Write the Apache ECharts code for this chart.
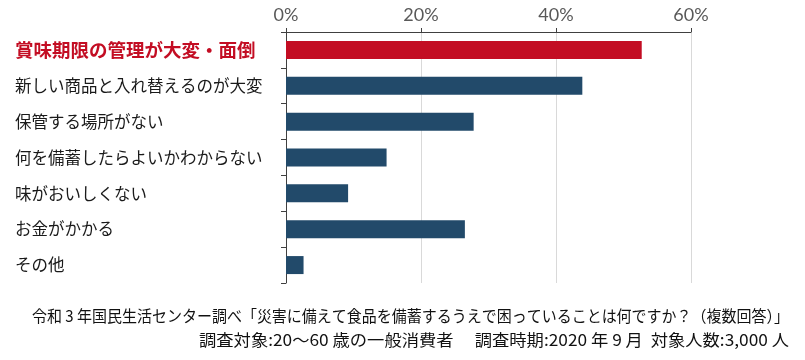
<!DOCTYPE html>
<html><head><meta charset="utf-8">
<script src="https://cdn.jsdelivr.net/npm/echarts@6/dist/echarts.min.js"></script>
<style>html,body{margin:0;padding:0;background:#fff}#c{width:805px;height:360px}</style>
</head><body><div id="c"></div>
<script>
const categories = ["賞味期限の管理が大変・面倒","新しい商品と入れ替えるのが大変","保管する場所がない","何を備蓄したらよいかわからない","味がおいしくない","お金がかかる","その他"];
const values = [52.7, 43.9, 27.8, 14.9, 9.2, 26.5, 2.6];
const highlightIndex = 0;
const xTicks = [0, 20, 40, 60];
const sourceLine1 = "令和 3 年国民生活センター調べ「災害に備えて食品を備蓄するうえで困っていることは何ですか？（複数回答）」";
const sourceLine2 = "調査対象:20～60 歳の一般消費者　 調査時期:2020 年 9 月  対象人数:3,000 人";

const RED = "#c30d23", BLUE = "#224a6a";
const FOOT_FONT = '16px "Noto Sans CJK JP"';
function measure(t) {
  const ctx = document.createElement('canvas').getContext('2d');
  ctx.font = FOOT_FONT;
  return ctx.measureText(t).width;
}
function footLine(text, x0, x1, cy) {
  const s = (x1 - x0) / measure(text);
  return {type: 'text', x: x0, y: cy, scaleX: s,
    style: {text: text, fill: '#111', font: FOOT_FONT, align: 'left', verticalAlign: 'middle'}};
}
const chart = echarts.init(document.getElementById('c'));
chart.setOption({
  animation: false,
  grid: {left: 286, right: 114, top: 32, bottom: 77},
  xAxis: {
    type: 'value', position: 'top', min: xTicks[0], max: xTicks[xTicks.length-1], interval: 20,
    axisLine: {show: true, lineStyle: {color: '#404040', width: 1}},
    axisTick: {show: true, length: 4, lineStyle: {color: '#404040'}},
    splitLine: {show: true, lineStyle: {color: '#d9d9d9'}},
    axisLabel: {formatter: '{value}%', color: '#595959', fontSize: 18, fontFamily: 'Lato', margin: 8}
  },
  yAxis: {
    type: 'category', inverse: true, data: categories,
    axisLine: {show: true, lineStyle: {color: '#404040', width: 1}},
    axisTick: {show: true, length: 5, lineStyle: {color: '#404040'}},
    axisLabel: {
      align: 'left', margin: 271,
      formatter: function (v, i) { return i === highlightIndex ? '{h|' + v + '}' : '{n|' + v + '}'; },
      rich: {
        h: {color: RED, fontSize: 18.5, fontWeight: 'bold', fontFamily: 'Noto Sans CJK JP'},
        n: {color: '#1a1a1a', fontSize: 16.5, fontFamily: 'Noto Sans CJK JP'}
      }
    }
  },
  series: [{
    type: 'bar', barWidth: 18,
    data: values.map((v, i) => ({value: v, itemStyle: {color: i === highlightIndex ? RED : BLUE}}))
  }],
  graphic: [
    footLine(sourceLine1, 32, 789, 316),
    footLine(sourceLine2, 199, 789, 340)
  ]
});
</script></body></html>
